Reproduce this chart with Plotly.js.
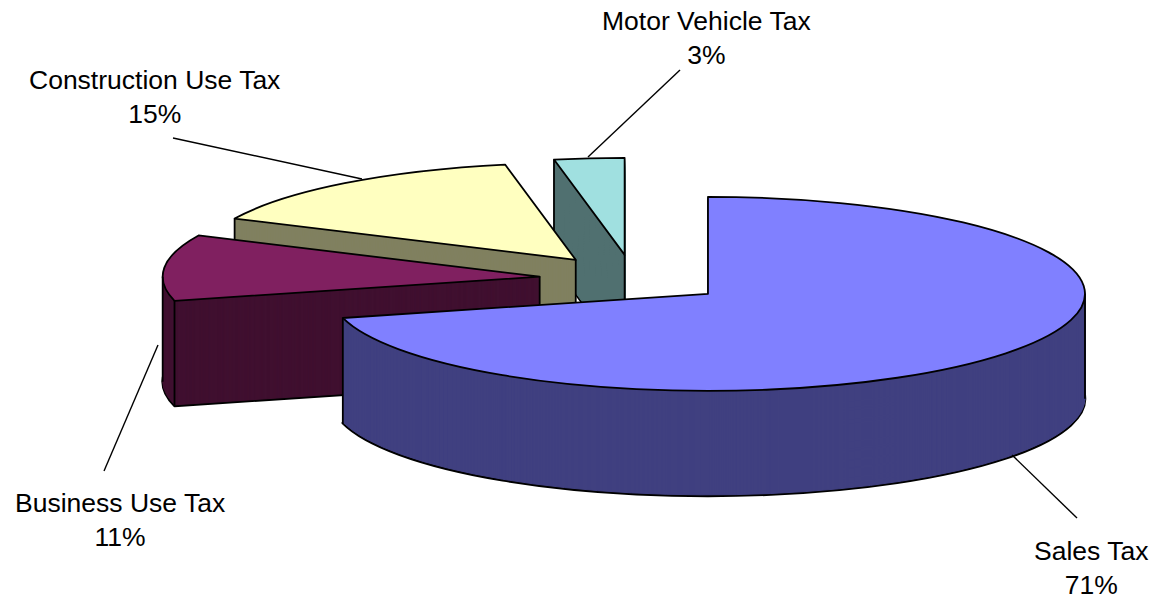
<!DOCTYPE html>
<html>
<head>
<meta charset="utf-8">
<script src="https://cdn.plot.ly/plotly-3.0.1.min.js"></script>
<style>
html,body{margin:0;padding:0;background:#ffffff;overflow:hidden}
#chart{width:1161px;height:604px}
.pielayer path{vector-effect:non-scaling-stroke}
</style>
</head>
<body>
<div id="chart"></div>
<script>
// ---- data ----
const categories = ['Sales Tax', 'Business Use Tax', 'Construction Use Tax', 'Motor Vehicle Tax'];
const shares = [71, 11, 15, 3];

// ---- styles ----
const topColors = ['#8080FF', '#802060', '#FFFFC0', '#A0E0E0'];
const sideColors = ['#404080', '#401030', '#808060', '#507070'];

// ---- layout geometry (pixels) ----
const W = 1161, H = 604;
const CENTER_X = 633.5, CENTER_Y = 279, RX = 377, RY = 97, DEPTH = 105, PULL = 0.25;

function pieLayer(colors, lineColor, lineWidth) {
  return {
    type: 'pie', labels: categories, values: shares, sort: false,
    direction: 'clockwise', rotation: 0, pull: PULL,
    marker: {colors: colors, line: {color: lineColor, width: lineWidth}},
    textinfo: 'none', hoverinfo: 'none', showlegend: false,
    domain: {x: [0, 1], y: [0, 1]}
  };
}

const data = [];
const offsets = [];
for (let k = DEPTH; k >= 0; k--) {
  if (k === DEPTH) data.push(pieLayer(sideColors, '#000000', 2.6));
  else if (k === 0) data.push(pieLayer(topColors, '#000000', 1.8));
  else data.push(pieLayer(sideColors, sideColors, 1));
  offsets.push(k);
}

const px = x => x / W, py = y => 1 - y / H;
const total = shares.reduce((a, b) => a + b, 0);

// slice angles (degrees clockwise from 12 o'clock) derived from the shares
const startAng = [], endAng = [];
let acc = 0;
shares.forEach(v => { startAng.push(acc / total * 360); acc += v; endAng.push(acc / total * 360); });
const rad = d => d * Math.PI / 180;
function apex(i) {
  const m = rad((startAng[i] + endAng[i]) / 2);
  return [CENTER_X + PULL * RX * Math.sin(m), CENTER_Y - PULL * RY * Math.cos(m)];
}
function rim(i, a) {
  const c = apex(i);
  return [c[0] + RX * Math.sin(rad(a)), c[1] - RY * Math.cos(rad(a))];
}
function edgeYAt(i, a, x) {
  const p = apex(i), q = rim(i, a);
  const lo = Math.min(p[0], q[0]), hi = Math.max(p[0], q[0]);
  if (x < lo || x > hi) return Infinity;
  return p[1] + (q[1] - p[1]) * (x - p[0]) / (q[0] - p[0]);
}

// visible vertical wall edges: [slice, angle or null(apex), occluding top edge [slice, angle] or null]
const wallEdges = [
  [0, endAng[0], null],
  [0, 90, null],
  [1, startAng[1], null],
  [1, 270, null],
  [1, null, [0, endAng[0]]],
  [2, startAng[2], [1, endAng[1]]],
  [2, null, [0, endAng[0]]],
  [3, startAng[3], [2, endAng[2]]],
  [3, null, [0, endAng[0]]]
];

const edgeShapes = wallEdges.map(e => {
  const p = e[1] === null ? apex(e[0]) : rim(e[0], e[1]);
  let yEnd = p[1] + DEPTH;
  if (e[2]) yEnd = Math.min(yEnd, edgeYAt(e[2][0], e[2][1], p[0]));
  return {type: 'line', xref: 'paper', yref: 'paper',
    x0: px(p[0]), y0: py(p[1]), x1: px(p[0]), y1: py(yEnd),
    line: {color: '#000000', width: 1.8}};
});

// label placement (text centre) and leader line endpoints, in pixels
const labelPos = [[1091, 568], [120, 519.5], [154, 96.5], [707, 38.5]];
const leaderLines = [[1012, 455, 1077, 518], [158, 345, 104, 471], [362, 179, 173, 138], [588, 157, 680, 70]];

const annotations = categories.map((c, i) => ({
  x: px(labelPos[i][0]), y: py(labelPos[i][1]), xref: 'paper', yref: 'paper',
  xanchor: 'center', yanchor: 'middle', align: 'center', showarrow: false,
  text: c + '<br>' + Math.round(shares[i] / total * 100) + '%',
  font: {family: 'Arial, "Liberation Sans", sans-serif', size: 26.5, color: '#000000'}
}));

const leaderShapes = leaderLines.map(l => ({
  type: 'line', xref: 'paper', yref: 'paper',
  x0: px(l[0]), y0: py(l[1]), x1: px(l[2]), y1: py(l[3]),
  line: {color: '#000000', width: 1.4}
}));

const layout = {
  width: W, height: H, margin: {l: 0, r: 0, t: 0, b: 0, pad: 0},
  paper_bgcolor: '#ffffff', plot_bgcolor: '#ffffff',
  showlegend: false, annotations: annotations, shapes: edgeShapes.concat(leaderShapes)
};

const gd = document.getElementById('chart');
Plotly.newPlot(gd, data, layout, {staticPlot: true, displayModeBar: false}).then(() => {
  const groups = gd.querySelectorAll('.pielayer .trace');
  groups.forEach((g, i) => {
    const cd0 = gd.calcdata[i][0];
    const r = cd0.r, cx = cd0.cx, cy = cd0.cy;
    const sx = RX / r, sy = RY / r;
    const tx = CENTER_X - sx * cx, ty = CENTER_Y + offsets[i] - sy * cy;
    g.setAttribute('transform', 'matrix(' + sx + ',0,0,' + sy + ',' + tx + ',' + ty + ')');
  });
});
</script>
</body>
</html>
